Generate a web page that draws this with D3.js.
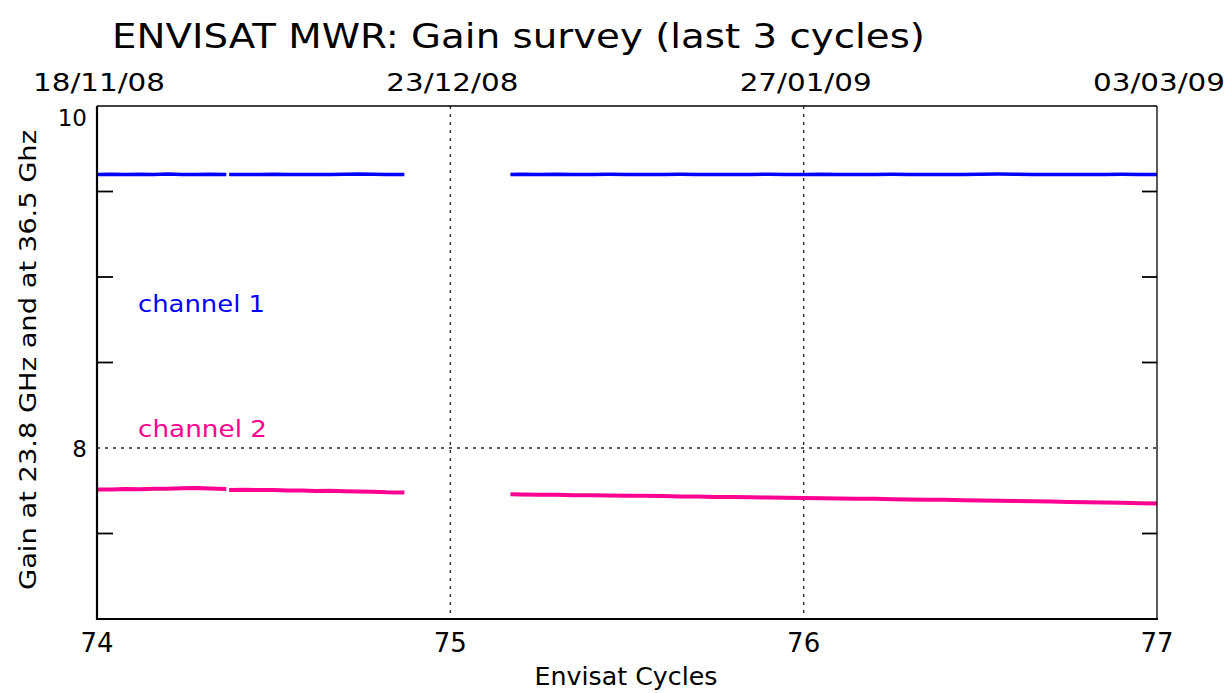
<!DOCTYPE html>
<html lang="en">
<head>
	<title>ENVISAT MWR gain survey</title>
	<script src="https://d3js.org/d3.v7.min.js" charset="utf-8"></script>
	<style>
		body { margin: 0; background: #fff; }
		text { font-family: "DejaVu Sans", sans-serif; fill: #000; }
	</style>
</head>
<body>
	<script>
	// cycle numbers of the samples (null = gap in the data)
	var cycles = [74.00, 74.04, 74.08, 74.12, 74.16, 74.20, 74.24, 74.28, 74.32, 74.366, null,
		74.374, 74.42, 74.46, 74.50, 74.54, 74.58, 74.62, 74.66, 74.70, 74.74, 74.78, 74.82, 74.87, null,
		75.17, 75.20, 75.25, 75.30, 75.35, 75.40, 75.45, 75.50, 75.55, 75.60, 75.65, 75.70, 75.75,
		75.80, 75.85, 75.90, 75.95, 76.00, 76.05, 76.10, 76.15, 76.20, 76.25, 76.30, 76.35, 76.40,
		76.45, 76.50, 76.55, 76.60, 76.65, 76.70, 76.75, 76.80, 76.85, 76.90, 76.95, 77.00];

	// channel 1 (23.8 GHz) gain
	var channel1 = [9.600, 9.601, 9.599, 9.601, 9.600, 9.602, 9.600, 9.599, 9.601, 9.600, null,
		9.600, 9.599, 9.600, 9.601, 9.600, 9.599, 9.600, 9.600, 9.601, 9.602, 9.601, 9.600, 9.600, null,
		9.600, 9.601, 9.600, 9.601, 9.599, 9.600, 9.601, 9.600, 9.599, 9.600, 9.601, 9.600, 9.600,
		9.599, 9.600, 9.601, 9.600, 9.600, 9.601, 9.599, 9.600, 9.600, 9.601, 9.600, 9.599, 9.600,
		9.600, 9.601, 9.602, 9.601, 9.600, 9.600, 9.599, 9.600, 9.600, 9.601, 9.600, 9.600];

	// channel 2 (36.5 GHz) gain
	var channel2 = [7.758, 7.757, 7.760, 7.759, 7.762, 7.761, 7.764, 7.766, 7.763, 7.760, null,
		7.755, 7.756, 7.754, 7.755, 7.752, 7.751, 7.749, 7.750, 7.747, 7.745, 7.744, 7.741, 7.740, null,
		7.729, 7.728, 7.727, 7.726, 7.724, 7.724, 7.722, 7.721, 7.721, 7.719, 7.717, 7.717, 7.714,
		7.713, 7.712, 7.710, 7.709, 7.707, 7.706, 7.705, 7.703, 7.703, 7.700, 7.699, 7.697, 7.697,
		7.694, 7.693, 7.691, 7.690, 7.688, 7.687, 7.684, 7.683, 7.681, 7.680, 7.677, 7.676];

	var cycleTicks = [74, 75, 76, 77];
	var dateLabels = ["18/11/08", "23/12/08", "27/01/09", "03/03/09"];
	var gainLabels = [8, 10];
	var gainMinor = [7.5, 8.5, 9, 9.5];

	var w = 1229, h = 693;
	// plot box edges
	var xLeft = 97, xRight = 1157, yTop = 106, yBottom = 619;

	var svg = d3.select("body").append("svg")
		.attr("width", w)
		.attr("height", h);

	var x = d3.scaleLinear().domain([74, 77]).range([xLeft, xRight]);
	var y = d3.scaleLinear().domain([7, 10]).range([yBottom, yTop]);

	// dotted grid lines
	svg.selectAll(".vgrid")
		.data([75, 76])
		.enter().append("line")
		.attr("x1", d => x(d)).attr("x2", d => x(d))
		.attr("y1", yTop).attr("y2", yBottom)
		.attr("stroke", "#222").attr("stroke-width", 1.3)
		.attr("stroke-dasharray", "3,5");
	svg.append("line")
		.attr("x1", xLeft).attr("x2", xRight)
		.attr("y1", y(8)).attr("y2", y(8))
		.attr("stroke", "#222").attr("stroke-width", 1.3)
		.attr("stroke-dasharray", "3,5");

	// data lines
	var pts1 = cycles.map((c, i) => [c, channel1[i]]);
	var pts2 = cycles.map((c, i) => [c, channel2[i]]);
	var line = d3.line()
		.defined(d => d[0] !== null && d[1] !== null)
		.x(d => x(d[0]))
		.y(d => y(d[1]));

	svg.append("path").datum(pts1)
		.attr("d", line).attr("fill", "none")
		.attr("stroke", "#0000ff").attr("stroke-width", 3.5);
	svg.append("path").datum(pts2)
		.attr("d", line).attr("fill", "none")
		.attr("stroke", "#ff0090").attr("stroke-width", 4);

	// frame
	svg.append("line").attr("x1", xLeft).attr("x2", xRight).attr("y1", yTop).attr("y2", yTop)
		.attr("stroke", "#000").attr("stroke-width", 1.3);
	svg.append("line").attr("x1", xRight).attr("x2", xRight).attr("y1", yTop).attr("y2", yBottom)
		.attr("stroke", "#000").attr("stroke-width", 1.3);
	svg.append("line").attr("x1", xLeft).attr("x2", xLeft).attr("y1", yTop).attr("y2", yBottom + 1)
		.attr("stroke", "#000").attr("stroke-width", 2.2);
	svg.append("line").attr("x1", xLeft - 1).attr("x2", xRight + 1).attr("y1", yBottom).attr("y2", yBottom)
		.attr("stroke", "#000").attr("stroke-width", 2.2);

	// minor y ticks on both sides
	svg.selectAll(".ltick").data(gainMinor).enter().append("line")
		.attr("x1", xLeft).attr("x2", xLeft + 16)
		.attr("y1", d => y(d)).attr("y2", d => y(d))
		.attr("stroke", "#000").attr("stroke-width", 1.8);
	svg.selectAll(".rtick").data(gainMinor).enter().append("line")
		.attr("x1", xRight - 15).attr("x2", xRight)
		.attr("y1", d => y(d)).attr("y2", d => y(d))
		.attr("stroke", "#000").attr("stroke-width", 1.8);

	// y tick labels
	svg.selectAll(".ylab").data(gainLabels).enter().append("text")
		.attr("x", xLeft - 10)
		.attr("y", d => y(d) + (d === 10 ? 20 : 9))
		.attr("text-anchor", "end")
		.style("font-size", "23px")
		.text(d => d);

	// bottom tick labels
	svg.selectAll(".xlab").data(cycleTicks).enter().append("text")
		.attr("x", d => x(d))
		.attr("y", 652)
		.attr("text-anchor", "middle")
		.style("font-size", "26px")
		.text(d => d);

	// top date labels
	svg.selectAll(".dlab").data(cycleTicks).enter().append("text")
		.attr("x", d => x(d) + 2)
		.attr("y", 91)
		.attr("text-anchor", "middle")
		.attr("textLength", 132)
		.attr("lengthAdjust", "spacingAndGlyphs")
		.style("font-size", "25px")
		.text((d, i) => dateLabels[i]);

	// title
	svg.append("text")
		.attr("x", 112).attr("y", 48)
		.attr("textLength", 813)
		.attr("lengthAdjust", "spacingAndGlyphs")
		.style("font-size", "34px")
		.text("ENVISAT MWR: Gain survey (last 3 cycles)");

	// axis titles
	svg.append("text")
		.attr("x", 626).attr("y", 685)
		.attr("text-anchor", "middle")
		.attr("textLength", 183)
		.attr("lengthAdjust", "spacingAndGlyphs")
		.style("font-size", "25px")
		.text("Envisat Cycles");

	svg.append("text")
		.attr("transform", "translate(36, 360) rotate(-90)")
		.attr("text-anchor", "middle")
		.attr("textLength", 460)
		.attr("lengthAdjust", "spacingAndGlyphs")
		.style("font-size", "23px")
		.text("Gain at 23.8 GHz and at 36.5 Ghz");

	// channel labels
	svg.append("text")
		.attr("x", 138).attr("y", 312)
		.attr("textLength", 127)
		.attr("lengthAdjust", "spacingAndGlyphs")
		.style("font-size", "23px")
		.style("fill", "#0000ff")
		.text("channel  1");
	svg.append("text")
		.attr("x", 138).attr("y", 437)
		.attr("textLength", 129)
		.attr("lengthAdjust", "spacingAndGlyphs")
		.style("font-size", "23px")
		.style("fill", "#ff0090")
		.text("channel  2");
	</script>
</body>
</html>
